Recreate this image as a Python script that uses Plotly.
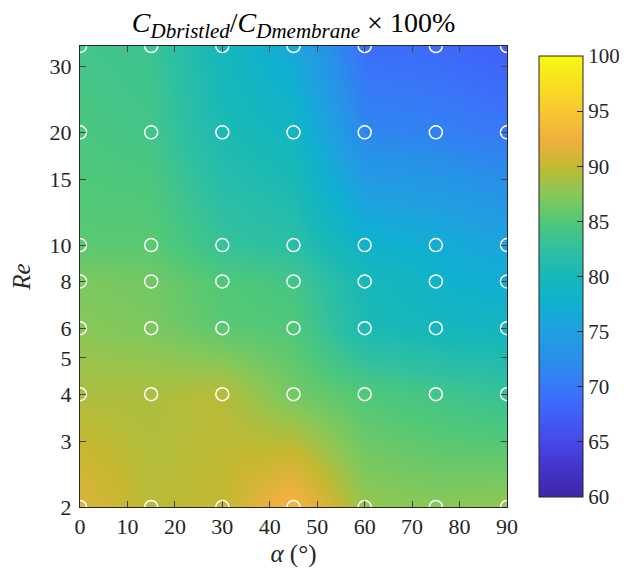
import numpy as np
import plotly.graph_objects as go

alpha = [0, 15, 30, 45, 60, 75, 90]
Re = [2, 4, 6, 8, 10, 20, 34]
# rows follow Re, columns follow alpha
ratio = [
    [91.5, 89.5, 90.0, 93.5, 88.0, 87.5, 88.0],
    [89.0, 89.0, 89.5, 86.5, 85.0, 84.0, 83.0],
    [87.5, 87.0, 85.5, 85.0, 80.5, 79.5, 79.0],
    [87.0, 86.5, 85.0, 84.0, 80.0, 78.0, 77.0],
    [85.5, 85.5, 83.0, 82.0, 78.0, 77.0, 75.5],
    [84.5, 84.0, 80.5, 79.0, 71.5, 71.0, 70.0],
    [84.0, 83.5, 79.5, 76.0, 69.0, 68.5, 67.5],
]
x_ticks = [0, 10, 20, 30, 40, 50, 60, 70, 80, 90]
y_ticks = [2, 3, 4, 5, 6, 8, 10, 15, 20, 30]
cbar_ticks = [60, 65, 70, 75, 80, 85, 90, 95, 100]

parula = [
    [0.0, "#3e26a8"],
    [0.0625, "#4333c8"],
    [0.125, "#4848e8"],
    [0.1875, "#4060f8"],
    [0.25, "#3878f8"],
    [0.3125, "#2890e8"],
    [0.375, "#20a0e0"],
    [0.4375, "#10b0d0"],
    [0.5, "#18b8b8"],
    [0.5625, "#30c0a0"],
    [0.625, "#50c878"],
    [0.6875, "#88c858"],
    [0.75, "#c4b830"],
    [0.8125, "#f0b040"],
    [0.875, "#f8c830"],
    [0.9375, "#f8e020"],
    [1.0, "#f8fa10"],
]

font = "Liberation Serif"

fig = go.Figure()
fig.add_trace(go.Heatmap(
    x=alpha, y=Re, z=ratio, zsmooth="best",
    colorscale=parula, zmin=60, zmax=100,
    colorbar=dict(
        x=1.052, xanchor="left", y=0, yanchor="bottom", len=1, lenmode="fraction",
        thickness=44, thicknessmode="pixels",
        tickvals=cbar_ticks, ticks="inside", ticklen=6, tickcolor="#262626",
        outlinecolor="#262626", outlinewidth=1,
        tickfont=dict(family=font, size=21, color="#262626"),
    ),
))

xs, ys = np.meshgrid(alpha, Re)
fig.add_trace(go.Scatter(
    x=xs.ravel(), y=ys.ravel(), mode="markers",
    marker=dict(symbol="circle-open", size=13, color="white", line=dict(width=1.5, color="white")),
    showlegend=False, hoverinfo="skip",
))

sub = "<sub><span style='font-size:21px'><i>{}</i></span></sub>"
title_text = ("<i>C</i>" + sub.format("Dbristled") + "/<i>C</i>" + sub.format("Dmembrane")
              + " × 100%")

fig.update_layout(
    width=619, height=562,
    margin=dict(l=72, r=120, t=38, b=63, autoexpand=False),
    paper_bgcolor="white", plot_bgcolor="white",
    font=dict(family=font, size=22, color="#262626"),
    title=dict(
        text=title_text,
        x=0.5, xref="paper", xanchor="center", y=0.975, yref="container", yanchor="middle",
        font=dict(family=font, size=28, color="black"),
    ),
    xaxis=dict(
        range=[0, 90], tickvals=x_ticks, ticks="inside", ticklen=6,
        showline=True, linecolor="#262626", linewidth=1, mirror="ticks",
        showgrid=False, zeroline=False,
        title=dict(text="<i>α</i> (°)", font=dict(family=font, size=25), standoff=6),
        tickfont=dict(family=font, size=22, color="#262626"),
    ),
    yaxis=dict(
        type="log", range=[np.log10(2), np.log10(34)], tickvals=y_ticks,
        ticktext=[str(v) for v in y_ticks],
        ticks="inside", ticklen=6, ticklabelstandoff=3,
        showline=True, linecolor="#262626", linewidth=1, mirror="ticks",
        showgrid=False, zeroline=False,
        title=dict(text="<i>Re</i>", font=dict(family=font, size=25), standoff=12),
        tickfont=dict(family=font, size=22, color="#262626"),
    ),
)

fig.write_html("out.html")
